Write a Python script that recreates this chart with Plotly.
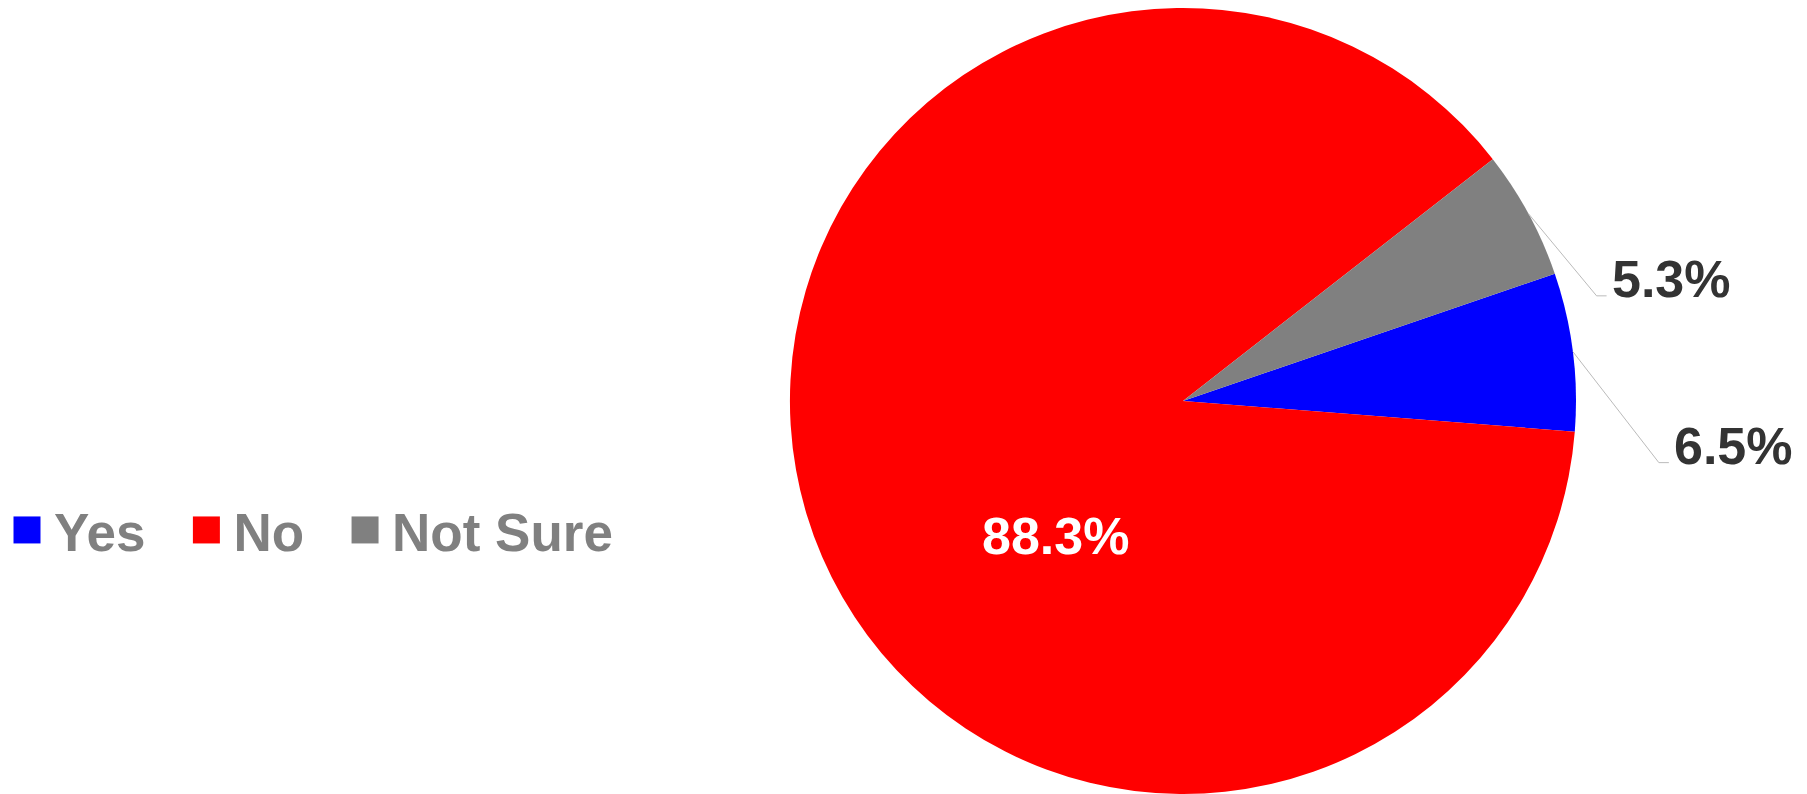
import math
import plotly.graph_objects as go

# Survey answers and their shares (percent)
labels = ["Yes", "No", "Not Sure"]
values = [6.5, 88.3, 5.3]
colors = ["#0000FF", "#FF0000", "#808080"]

W, H = 1807, 794
ROTATION = 71.1            # first slice starts this many degrees clockwise from 12 o'clock
DOM_X = [0.4366, 0.8727]
DOM_Y = [0.0, 0.99]
FONT = "Liberation Sans, Arial, sans-serif"
LABEL_SIZE = 52

fig = go.Figure(
    go.Pie(
        labels=labels,
        values=values,
        sort=False,
        direction="clockwise",
        rotation=ROTATION,
        marker=dict(colors=colors, line=dict(width=0)),
        textinfo="none",
        hoverinfo="label+value",
        domain=dict(x=DOM_X, y=DOM_Y),
    )
)

# Geometry of the pie in pixels, derived from its domain
cx_px = (DOM_X[0] + DOM_X[1]) / 2 * W
cy_px = H - (DOM_Y[0] + DOM_Y[1]) / 2 * H
radius = min((DOM_X[1] - DOM_X[0]) * W, (DOM_Y[1] - DOM_Y[0]) * H) / 2
cx_paper, cy_paper = cx_px / W, 1 - cy_px / H

total = sum(values)
start = 90 - ROTATION       # degrees counter-clockwise from 3 o'clock
mid_angles = []
for v in values:
    span = 360 * v / total
    mid_angles.append(start - span / 2)
    start -= span

# Leader-line offsets (pixels, right/down) for the small slices labelled outside
leaders = {0: (86, 111), 2: (68, 82)}

for i, (dx, dy) in leaders.items():
    a = math.radians(mid_angles[i])
    ex = cx_px + radius * math.cos(a)
    ey = cy_px - radius * math.sin(a)
    xp, yp = ex / W, 1 - ey / H
    fig.add_shape(
        type="path",
        xref="paper", yref="paper",
        xsizemode="pixel", ysizemode="pixel",
        xanchor=xp, yanchor=yp,
        path=f"M0,0 L{dx},{-dy} L{dx + 10},{-dy}",
        line=dict(color="#BBBBBB", width=1),
    )
    fig.add_annotation(
        x=xp, y=yp, xref="paper", yref="paper",
        text=f"{values[i]}%",
        showarrow=False,
        xanchor="left", yanchor="middle",
        xshift=dx + 13, yshift=-dy + 16.5,
        font=dict(family=FONT, size=LABEL_SIZE, color="#333333", weight="bold"),
    )

# Share of the large slice, written inside it
fig.add_annotation(
    x=cx_paper, y=cy_paper, xref="paper", yref="paper",
    text=f"{values[1]}%",
    showarrow=False,
    xanchor="center", yanchor="middle",
    xshift=-127, yshift=-135,
    font=dict(family=FONT, size=LABEL_SIZE, color="white", weight="bold"),
)

fig.update_layout(
    width=W, height=H,
    margin=dict(l=0, r=0, t=0, b=0),
    paper_bgcolor="white",
    plot_bgcolor="white",
    showlegend=True,
    legend=dict(
        orientation="h",
        x=0, xanchor="left",
        y=1 - 530 / H, yanchor="middle",
        font=dict(family=FONT, size=53, color="#808080", weight="bold"),
        itemwidth=44,
        traceorder="normal",
    ),
)

# Larger legend swatches and wider spacing between legend entries
post = """
var gd = document.getElementById('{plot_id}');
var EXTRA_GAP = 29;
function styleLegend() {
  gd.querySelectorAll('path.legendpie').forEach(function (p) {
    p.setAttribute('d', 'M13.5,13.5H-13.5V-13.5H13.5Z');
  });
  gd.querySelectorAll('.legend g.traces').forEach(function (el, i) {
    var t = el.getAttribute('transform') || '';
    var m = /translate\\(\\s*([-\\d.e]+)[\\s,]+([-\\d.e]+)\\s*\\)/.exec(t);
    if (!m) return;
    var x = parseFloat(m[1]);
    if (el.getAttribute('data-sx') === String(x)) return;
    var nx = x + i * EXTRA_GAP;
    el.setAttribute('transform', 'translate(' + nx + ',' + m[2] + ')');
    el.setAttribute('data-sx', String(nx));
  });
  gd.querySelectorAll('.legend [clip-path]').forEach(function (e) {
    e.removeAttribute('clip-path');
  });
}
styleLegend();
gd.on('plotly_afterplot', styleLegend);
"""

fig.write_html("out.html", post_script=post)
